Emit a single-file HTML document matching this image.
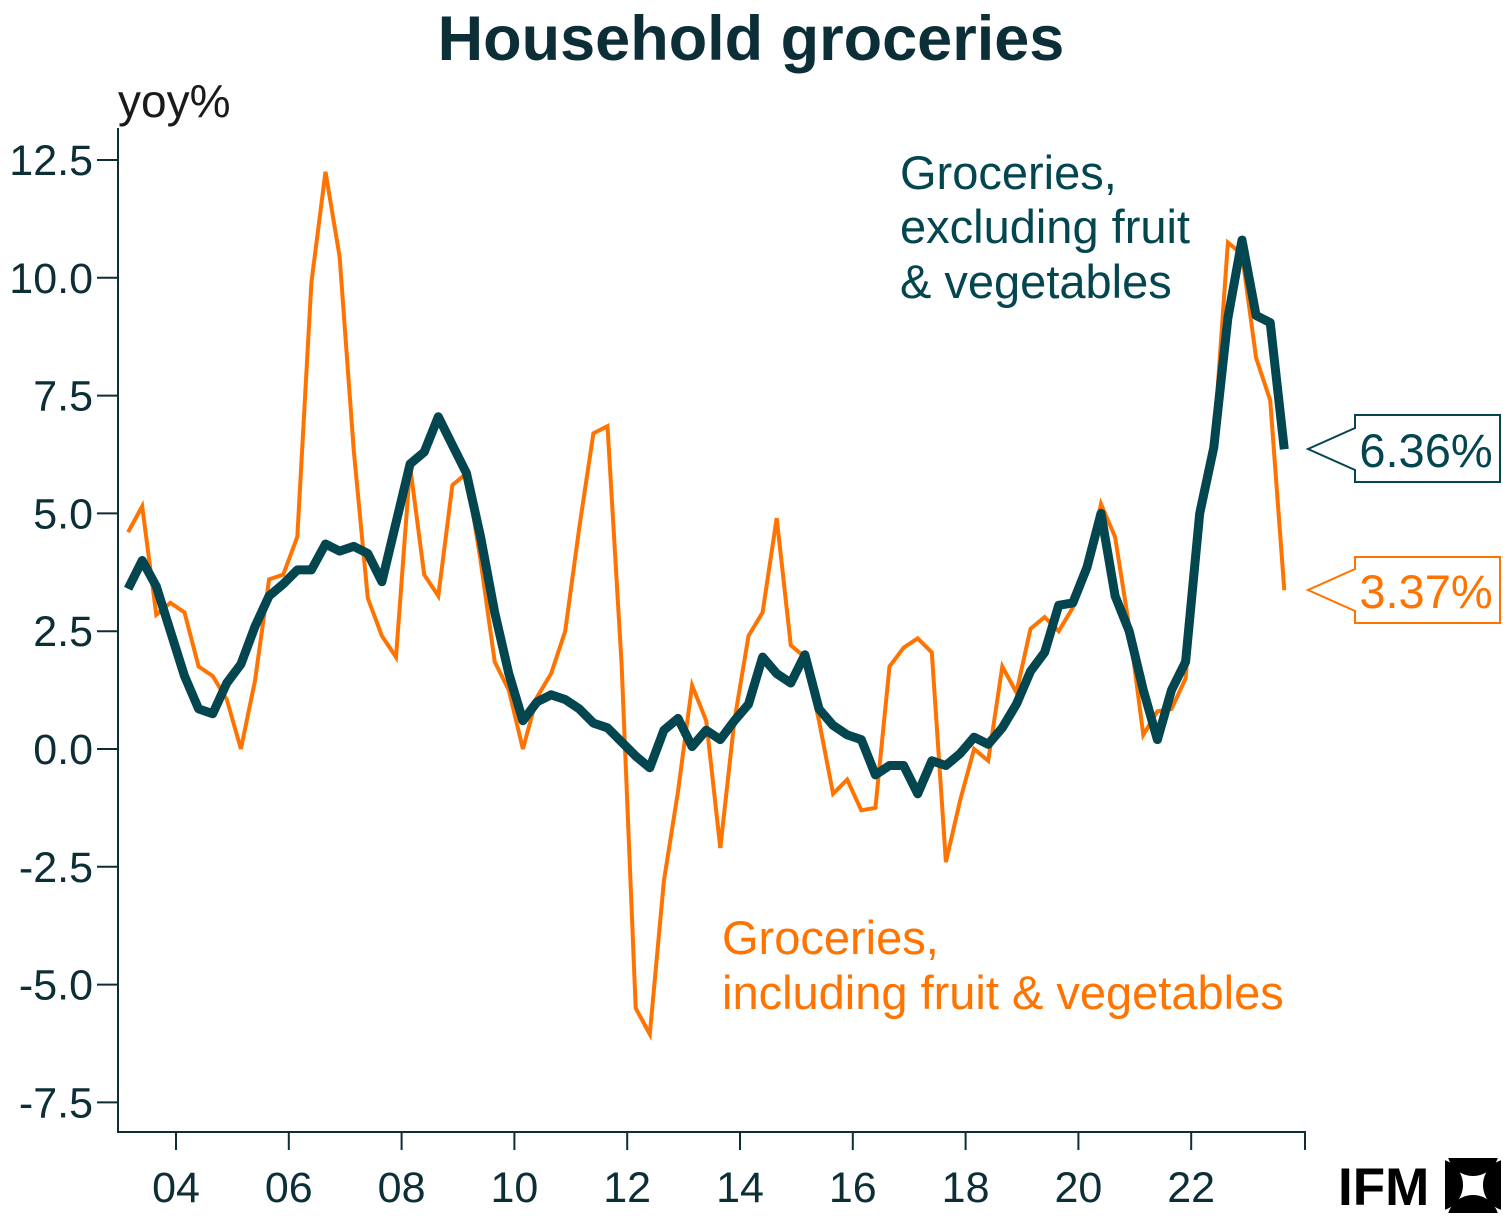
<!DOCTYPE html>
<html><head><meta charset="utf-8"><style>
body{margin:0;background:#fff;}
svg{display:block;font-family:"Liberation Sans",Arial,sans-serif;}
</style></head><body>
<svg id="chart" width="1503" height="1219" viewBox="0 0 1503 1219">
<text x="751" y="60" text-anchor="middle" font-size="63" font-weight="bold" fill="#0c2e36">Household groceries</text>
<text x="118" y="117" font-size="46" fill="#1a1a1a">yoy%</text>
<g id="axes"></g>
<g id="series"></g>
<text font-size="47" fill="#034650"><tspan x="900" y="189">Groceries,</tspan><tspan x="900" y="243">excluding fruit</tspan><tspan x="900" y="298">&amp; vegetables</tspan></text>
<text font-size="47" fill="#ff7300"><tspan x="722" y="954">Groceries,</tspan><tspan x="722" y="1009">including fruit &amp; vegetables</tspan></text>
<g>
<path d="M1355,415 H1500 V482 H1355 V470 L1308,449 L1355,428 Z" fill="#fff" stroke="#034650" stroke-width="2"/>
<text x="1426" y="467" text-anchor="middle" font-size="47" fill="#034650">6.36%</text>
</g>
<g>
<path d="M1355,557 H1500 V623 H1355 V611 L1308,590 L1355,569 Z" fill="#fff" stroke="#ff7300" stroke-width="2"/>
<text x="1426" y="608" text-anchor="middle" font-size="47" fill="#ff7300">3.37%</text>
</g>
<text x="1338" y="1205" font-size="53" font-weight="bold" fill="#000">IFM</text>
<g>
<defs><clipPath id="lc"><rect x="1445" y="1158" width="56" height="55"/></clipPath></defs>
<g clip-path="url(#lc)" fill="#000">
<circle cx="1473" cy="1150" r="26"/>
<circle cx="1473" cy="1221" r="26"/>
<circle cx="1437" cy="1185" r="26"/>
<circle cx="1509" cy="1185" r="26"/>
</g>
</g>
</svg>
<script>
const yTicks=[12.5,10.0,7.5,5.0,2.5,0.0,-2.5,-5.0,-7.5];
const xTickLabels=["04","06","08","10","12","14","16","18","20","22"];
const startQuarter=2003.15;
const orangeValues=[4.6,5.15,2.85,3.1,2.9,1.75,1.55,1.05,0.0,1.45,3.6,3.7,4.5,9.9,12.25,10.45,6.35,3.2,2.4,1.95,6.0,3.7,3.25,5.6,5.85,4.0,1.85,1.25,0.0,1.1,1.6,2.5,4.7,6.7,6.85,1.8,-5.5,-6.05,-2.8,-0.9,1.35,0.6,-2.1,0.6,2.4,2.9,4.9,2.2,1.95,0.6,-0.95,-0.65,-1.3,-1.25,1.75,2.15,2.35,2.05,-2.4,-1.1,0.0,-0.25,1.75,1.2,2.55,2.8,2.5,3.0,3.8,5.2,4.5,2.6,0.3,0.8,0.85,1.5,5.0,6.5,10.75,10.5,8.3,7.4,3.37];
const navyValues=[3.4,4.0,3.45,2.5,1.55,0.85,0.75,1.4,1.8,2.6,3.25,3.5,3.8,3.8,4.35,4.2,4.3,4.15,3.55,4.8,6.05,6.3,7.05,6.45,5.85,4.5,2.9,1.6,0.6,1.0,1.15,1.05,0.85,0.55,0.45,0.15,-0.15,-0.4,0.4,0.65,0.05,0.4,0.2,0.6,0.95,1.95,1.6,1.4,2.0,0.85,0.5,0.3,0.2,-0.55,-0.35,-0.35,-0.95,-0.25,-0.35,-0.1,0.25,0.1,0.45,0.95,1.65,2.05,3.05,3.1,3.85,5.0,3.25,2.5,1.25,0.2,1.25,1.85,5.0,6.4,9.15,10.8,9.2,9.05,6.36];

const NS="http://www.w3.org/2000/svg";
function yScale(v){return 749-v*47.12;}
function xScale(year){return 176+(year-2004)*56.4;}
function mk(tag,attrs,parent){const e=document.createElementNS(NS,tag);for(const k in attrs)e.setAttribute(k,attrs[k]);parent.appendChild(e);return e;}
const axes=document.getElementById('axes');
const ax=mk('path',{d:'M118,128 V1132 H1305 V1150',fill:'none',stroke:'#0c2e36','stroke-width':2},axes);


yTicks.forEach(v=>{
  const y=yScale(v);
  const t=mk('line',{x1:97,x2:118,y1:y,y2:y,stroke:'#0c2e36','stroke-width':2},axes);
  
  
  const l=mk('text',{x:93,y:y+15,'text-anchor':'end','font-size':43,fill:'#0c2e36'},axes);
  l.textContent=v.toFixed(1);
  
  
});
xTickLabels.forEach(s=>{
  const x=xScale(2000+parseInt(s,10));
  const t=mk('line',{x1:x,x2:x,y1:1132,y2:1150,stroke:'#0c2e36','stroke-width':2},axes);
  
  
  const l=mk('text',{x:x,y:1202,'text-anchor':'middle','font-size':43,fill:'#0c2e36'},axes);
  l.textContent=s;
  
  
});
const ser=document.getElementById('series');
function pts(arr){return arr.map((v,i)=>xScale(startQuarter+i*0.25).toFixed(1)+','+yScale(v).toFixed(1)).join(' ');}
const o=mk('polyline',{points:pts(orangeValues),fill:'none',stroke:'#ff7300','stroke-width':4,'stroke-linejoin':'miter'},ser);


const n=mk('polyline',{points:pts(navyValues),fill:'none',stroke:'#034650','stroke-width':9,'stroke-linejoin':'round'},ser);


</script>
</body></html>
